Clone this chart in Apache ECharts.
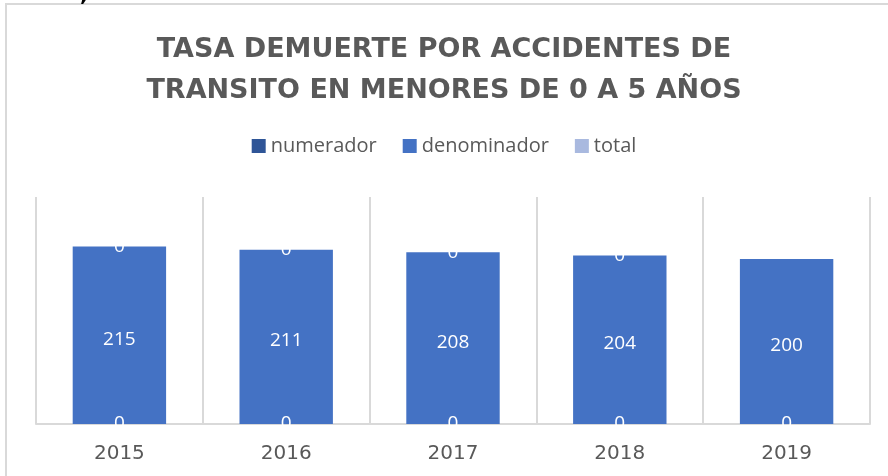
<!DOCTYPE html>
<html>
<head>
<meta charset="utf-8">
<script src="https://cdn.jsdelivr.net/npm/echarts@6/dist/echarts.min.js"></script>
<style>
  html, body { margin: 0; padding: 0; background: #fff; }
  #chart { width: 888px; height: 476px; }
</style>
</head>
<body>
<div id="chart"></div>
<script>
// datos
const years = ['2015', '2016', '2017', '2018', '2019'];
const numerador = [0, 0, 0, 0, 0];
const denominador = [215, 211, 208, 204, 200];
const total = [0, 0, 0, 0, null];

const chart = echarts.init(document.getElementById('chart'));

const labelStyle = {
  show: true,
  position: 'inside',
  color: '#fff',
  fontFamily: 'Open Sans',
  fontSize: 19
};

const option = {
  backgroundColor: '#fff',
  color: ['#2F5597', '#4472C4', '#A9B9DF'],
  animation: false,
  title: {
    text: 'TASA DEMUERTE POR ACCIDENTES DE\nTRANSITO EN MENORES DE 0 A 5 AÑOS',
    left: 'center',
    top: 24,
    textStyle: {
      color: '#595959',
      fontFamily: 'DejaVu Sans',
      fontWeight: 'bold',
      fontSize: 27,
      lineHeight: 41
    }
  },
  legend: {
    top: 131,
    left: 'center',
    itemWidth: 14,
    itemHeight: 14,
    itemGap: 26,
    icon: 'rect',
    textStyle: {
      color: '#595959',
      fontFamily: 'Open Sans',
      fontSize: 20
    },
    data: ['numerador', 'denominador', 'total']
  },
  grid: {
    left: 36,
    right: 18,
    top: 197,
    bottom: 52
  },
  xAxis: {
    type: 'category',
    data: years,
    axisLine: { lineStyle: { color: '#d9d9d9', width: 2 } },
    axisTick: { show: false },
    splitLine: { show: true, lineStyle: { color: '#d9d9d9', width: 2 } },
    axisLabel: {
      color: '#595959',
      fontFamily: 'DejaVu Sans',
      fontSize: 20,
      margin: 20
    }
  },
  yAxis: {
    type: 'value',
    min: 0,
    max: 275,
    show: false,
    splitLine: { show: false }
  },
  graphic: [
    {
      type: 'rect',
      shape: { x: 6, y: 4, width: 900, height: 500 },
      style: { fill: 'none', stroke: '#d9d9d9', lineWidth: 2 },
      z: -1
    },
    {
      type: 'text',
      left: 80,
      top: -14,
      style: { text: ',', fill: '#000', font: 'bold 20px DejaVu Sans' }
    }
  ],
  series: [
    {
      name: 'numerador',
      type: 'bar',
      stack: 'tasa',
      barWidth: '56%',
      data: numerador,
      label: labelStyle
    },
    {
      name: 'denominador',
      type: 'bar',
      stack: 'tasa',
      data: denominador,
      label: Object.assign({}, labelStyle, { offset: [0, 4] })
    },
    {
      name: 'total',
      type: 'bar',
      stack: 'tasa',
      data: total,
      label: labelStyle
    }
  ]
};

chart.setOption(option);
</script>
</body>
</html>
